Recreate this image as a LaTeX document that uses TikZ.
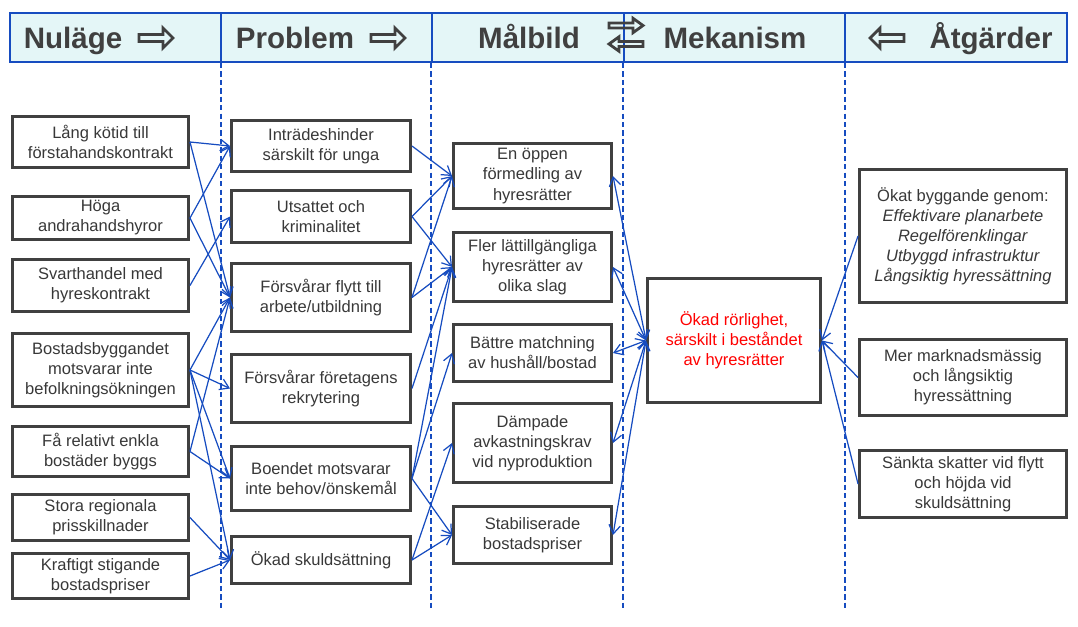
\documentclass[tikz,border=0pt]{standalone}
\usepackage{fontspec}
\setmainfont{Liberation Sans}
\usetikzlibrary{arrows.meta}

\definecolor{cBlue}{RGB}{22,76,192}
\definecolor{cHead}{RGB}{228,246,247}
\definecolor{cGray}{RGB}{64,64,64}
\definecolor{cText}{RGB}{56,56,56}

\tikzset{
  box/.style={draw=cGray, line width=1.7pt, inner sep=0pt, align=center, text=cText,
              font=\fontsize{9.4}{11.4}\selectfont},
  boxNu/.style={box, minimum width=3.52cm},
  boxPr/.style={box, minimum width=3.58cm},
  boxMa/.style={box, minimum width=3.16cm},
  boxAt/.style={box, minimum width=4.14cm},
  conn/.style={draw=cBlue, line width=0.7pt},
  divline/.style={draw=cBlue, line width=1.4pt, dash pattern=on 3pt off 1.8pt},
  hdrtext/.style={text=cGray, font=\fontsize{16.8}{20}\selectfont\bfseries, inner sep=0pt, anchor=base},
  hdrarrow/.style={draw=cGray, line width=1.6pt, line join=miter},
}

\begin{document}
\begin{tikzpicture}[x=0.02cm, y=-0.02cm, >={Straight Barb[length=5pt,width=6.5pt]}]
\useasboundingbox (0,0) rectangle (1078,626);

% header
\draw[cBlue, line width=1pt, fill=cHead] (10,13) rectangle (1067,62);
\foreach \v in {221, 432, 624, 845}
{
    \draw[cBlue, line width=1pt] (\v,13) -- (\v,62);
};

\foreach \v in {221, 431, 623, 845}
{
    \coordinate (cTop\v) at (\v,63);
    \coordinate (cBot\v) at (\v,610);
    \draw[divline] (cTop\v) -- (cBot\v);
};

\foreach \n/\v/\t in
{   nHNul/73/Nuläge,
    nHPro/295/Problem,
    nHMal/529/Målbild,
    nHMek/735/Mekanism,
    nHAtg/991/Åtgärder}
{
    \node[hdrtext] (\n) at (\v,48) {\t};
};

% header arrows
\foreach \v/\w/\u/\s in
{   139/38/1/1,
    371/38/1/1,
    609/25.5/1/0.72,
    643/44/-1/0.72,
    904/38/-1/1}
{
    \begin{scope}[shift={(\v,\w)}, xscale=\u, yscale=\s]
    \draw[hdrarrow] (0,-3.5) -- (24,-3.5) -- (24,-10) -- (34,0) -- (24,10) -- (24,3.5) -- (0,3.5) -- cycle;
    \end{scope}
};

% Nulaege
\node[boxNu, minimum height=1.02cm] (nNu1) at (100.5,142) {Lång kötid till\\förstahandskontrakt};
\node[boxNu, minimum height=0.86cm] (nNu2) at (100.5,218) {Höga\\andrahandshyror};
\node[boxNu, minimum height=1.04cm] (nNu3) at (100.5,285.5) {Svarthandel med\\hyreskontrakt};
\node[boxNu, minimum height=1.46cm] (nNu4) at (100.5,370) {Bostadsbyggandet\\motsvarar inte\\befolkningsökningen};
\node[boxNu, minimum height=1.00cm] (nNu5) at (100.5,451.5) {Få relativt enkla\\bostäder byggs};
\node[boxNu, minimum height=0.92cm] (nNu6) at (100.5,517.5) {Stora regionala\\prisskillnader};
\node[boxNu, minimum height=0.90cm] (nNu7) at (100.5,576) {Kraftigt stigande\\bostadspriser};

% Problem
\node[boxPr, minimum height=1.02cm] (nPr1) at (321,146) {Inträdeshinder\\särskilt för unga};
\node[boxPr, minimum height=1.04cm] (nPr2) at (321,216.5) {Utsattet och\\kriminalitet};
\node[boxPr, minimum height=1.36cm] (nPr3) at (321,297.5) {Försvårar flytt till\\arbete/utbildning};
\node[boxPr, minimum height=1.36cm] (nPr4) at (321,388.5) {Försvårar företagens\\rekrytering};
\node[boxPr, minimum height=1.28cm] (nPr5) at (321,478.5) {Boendet motsvarar\\inte behov/önskemål};
\node[boxPr, minimum height=0.94cm] (nPr6) at (321,560) {Ökad skuldsättning};

% Maalbild
\node[boxMa, minimum height=1.30cm] (nMa1) at (532.5,176) {En öppen\\förmedling av\\hyresrätter};
\node[boxMa, minimum height=1.38cm] (nMa2) at (532.5,267) {Fler lättillgängliga\\hyresrätter av\\olika slag};
\node[boxMa, minimum height=1.14cm] (nMa3) at (532.5,353) {Bättre matchning\\av hushåll/bostad};
\node[boxMa, minimum height=1.58cm] (nMa4) at (532.5,443) {Dämpade\\avkastningskrav\\vid nyproduktion};
\node[boxMa, minimum height=1.14cm] (nMa5) at (532.5,535) {Stabiliserade\\bostadspriser};

% Mekanism
\node[box, text=red, minimum width=3.46cm, minimum height=2.48cm] (nMek) at (734,340.5)
    {Ökad rörlighet,\\särskilt i beståndet\\av hyresrätter};

% Aatgaerder
\node[boxAt, minimum height=2.66cm] (nAt1) at (963,236)
    {Ökat byggande genom:\\\textit{Effektivare planarbete}\\\textit{Regelförenklingar}\\\textit{Utbyggd infrastruktur}\\\textit{Långsiktig hyressättning}};
\node[boxAt, minimum height=1.52cm] (nAt2) at (963,377.5) {Mer marknadsmässig\\och långsiktig\\hyressättning};
\node[boxAt, minimum height=1.34cm] (nAt3) at (963,484) {Sänkta skatter vid flytt\\och höjda vid\\skuldsättning};

% connectors
\foreach \a/\b in
{   nNu1/nPr1, nNu1/nPr3, nNu2/nPr1, nNu2/nPr3, nNu3/nPr2,
    nNu4/nPr3, nNu4/nPr4, nNu4/nPr5, nNu4/nPr6, nNu5/nPr3,
    nNu5/nPr5, nNu6/nPr6, nNu7/nPr6,
    nPr1/nMa1, nPr2/nMa1, nPr2/nMa2, nPr3/nMa1, nPr3/nMa2,
    nPr4/nMa2, nPr5/nMa2, nPr5/nMa3, nPr5/nMa5, nPr6/nMa4, nPr6/nMa5}
{
    \draw[conn, ->] (\a.east) -- (\b.west);
};

\foreach \a in {nMa1, nMa2, nMa3, nMa4, nMa5}
{
    \draw[conn, <->] (\a.east) -- (nMek.west);
};

\foreach \a in {nAt1, nAt2, nAt3}
{
    \draw[conn, ->] (\a.west) -- (nMek.east);
};

\end{tikzpicture}
\end{document}
